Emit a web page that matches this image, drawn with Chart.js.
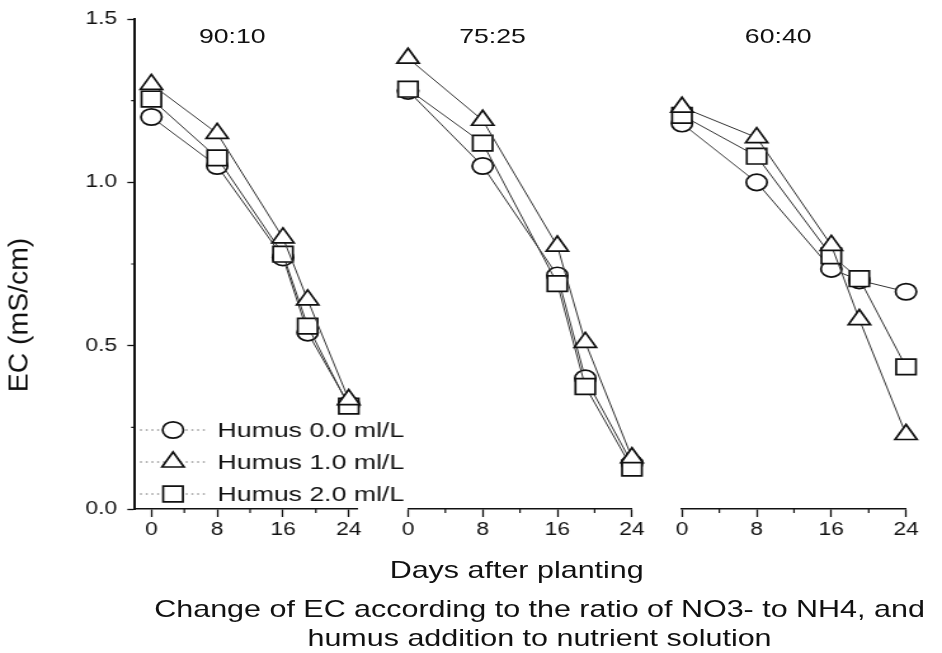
<!DOCTYPE html>
<html lang="en">
<head>
  <meta charset="UTF-8" />
  <title>Change of EC - NO3:NH4 ratio and humus</title>
  <script src="https://cdn.jsdelivr.net/npm/chart.js@4.4.0/dist/chart.umd.min.js"></script>
  <style>
    body {
      margin: 0;
      background: #fff;
      overflow: hidden;
    }
    /* the scanned figure uses a very wide sans face, so the figure is laid
       out 742px wide and stretched to fill the 942px window */
    .figure {
      position: relative;
      width: 742px;
      height: 653px;
      transform: scaleX(1.2695);
      transform-origin: 0 0;
      font-family: 'Liberation Sans', Arial, sans-serif;
      color: #111;
    }
    .panel {
      position: absolute;
      top: 0;
      height: 560px;
    }
    .txt {
      position: absolute;
      white-space: nowrap;
      text-align: center;
    }
    .panel-title { font-size: 21px; line-height: 21px; width: 100px; top: 25px; }
    .caption { font-size: 24px; line-height: 24px; width: 800px; left: 25px; }
    .ytitle {
      font-size: 22px; line-height: 26px; width: 200px; height: 26px;
      left: -85px; top: 302px;
      transform: rotate(-90deg) scaleX(1.29);
    }
  </style>
</head>
<body>
  <div class="figure">
    <!-- panel 1 is wider than its plot so the legend text is not cut off -->
    <div class="panel" style="left:0; width:330px;"><canvas id="p1"></canvas></div>
    <div class="panel" style="left:300px; width:220px;"><canvas id="p2"></canvas></div>
    <div class="panel" style="left:520px; width:222px;"><canvas id="p3"></canvas></div>

    <div class="txt panel-title" style="left:133px;">90:10</div>
    <div class="txt panel-title" style="left:338px;">75:25</div>
    <div class="txt panel-title" style="left:563px;">60:40</div>

    <div class="txt ytitle">EC (mS/cm)</div>
    <div class="txt caption" style="left:7px; top:558px;">Days after planting</div>
    <div class="txt caption" style="top:597px;">Change of EC according to the ratio of NO3- to NH4, and</div>
    <div class="txt caption" style="top:626px;">humus addition to nutrient solution</div>
  </div>

  <script>
    const days = [0, 8, 16, 19, 24];
    const dayTicks = [0, 8, 16, 24];
    const dayMinor = [4, 12, 20];
    const ecTicks = [0, 0.5, 1.0, 1.5];
    const ecMinor = [0.25, 0.75, 1.25];
    const seriesNames = ['Humus 0.0 ml/L', 'Humus 1.0 ml/L', 'Humus 2.0 ml/L'];

    // EC (mS/cm), one array per humus level, for each NO3:NH4 ratio
    const ec9010_h0 = [1.20, 1.05, 0.77, 0.54, 0.32];
    const ec9010_h1 = [1.30, 1.15, 0.83, 0.64, 0.335];
    const ec9010_h2 = [1.255, 1.075, 0.78, 0.56, 0.315];

    const ec7525_h0 = [1.28, 1.05, 0.715, 0.40, 0.14];
    const ec7525_h1 = [1.38, 1.19, 0.805, 0.51, 0.157];
    const ec7525_h2 = [1.285, 1.12, 0.69, 0.375, 0.125];

    const ec6040_h0 = [1.18, 1.00, 0.735, 0.70, 0.665];
    const ec6040_h1 = [1.23, 1.137, 0.807, 0.58, 0.228];
    const ec6040_h2 = [1.205, 1.08, 0.775, 0.705, 0.435];

    const FONT = "'Liberation Sans', Arial, sans-serif";
    const INK = '#111';
    const markers = ['circle', 'triangle', 'rect'];
    const markerSize = [8.2, 10, 11];
    const stacking = [2, 0, 1];   // triangles on top, circles below

    // short unlabelled ticks between the labelled ones
    const minorTicks = {
      id: 'minorTicks',
      afterDraw(chart) {
        const { ctx, chartArea } = chart;
        const xs = chart.scales.x, ys = chart.scales.y;
        ctx.save();
        ctx.strokeStyle = INK;
        ctx.lineWidth = 1.2;
        ctx.beginPath();
        dayMinor.forEach(v => {
          const px = xs.getPixelForValue(v);
          ctx.moveTo(px, chartArea.bottom);
          ctx.lineTo(px, chartArea.bottom + 4);
        });
        if (ys.options.display) {
          ecMinor.forEach(v => {
            const py = ys.getPixelForValue(v);
            ctx.moveTo(chartArea.left, py);
            ctx.lineTo(chartArea.left - 3, py);
          });
        }
        ctx.stroke();
        ctx.restore();
      }
    };

    // legend sits inside the first panel, bottom left
    const insideLegend = {
      id: 'insideLegend',
      afterDatasetsDraw(chart) {
        const { ctx, chartArea } = chart;
        ctx.save();
        ctx.font = '21px ' + FONT;
        ctx.textBaseline = 'middle';
        chart.data.datasets.forEach((ds, i) => {
          const cy = chartArea.bottom - 79 + i * 32;
          const cx = chartArea.left + 30;
          ctx.strokeStyle = '#666';
          ctx.lineWidth = 1;
          ctx.setLineDash([1.5, 3]);
          ctx.beginPath();
          ctx.moveTo(chartArea.left + 4, cy);
          ctx.lineTo(chartArea.left + 57, cy);
          ctx.stroke();
          ctx.setLineDash([]);
          ctx.fillStyle = '#fff';
          ctx.strokeStyle = INK;
          ctx.lineWidth = 1.7;
          Chart.helpers.drawPoint(ctx, { pointStyle: ds.pointStyle, radius: ds.pointRadius, rotation: 0, borderWidth: 1.7 }, cx, cy);
          ctx.fillStyle = INK;
          ctx.fillText(ds.label, chartArea.left + 65, cy + 1);
        });
        ctx.restore();
      }
    };

    function makePanel(id, series, xMin, xMax, showY, padLeft, padRight, extraPlugins) {
      return new Chart(document.getElementById(id), {
        type: 'line',
        data: {
          datasets: series.map((vals, i) => ({
            label: seriesNames[i],
            data: days.map((d, j) => ({ x: d, y: vals[j] })),
            borderColor: '#333',
            borderWidth: 1,
            pointStyle: markers[i],
            pointRadius: markerSize[i],
            pointBackgroundColor: '#fff',
            pointBorderColor: INK,
            pointBorderWidth: 1.7,
            order: stacking[i],
            clip: false,
            fill: false,
            tension: 0
          }))
        },
        options: {
          responsive: true,
          maintainAspectRatio: false,
          animation: false,
          events: [],
          layout: { padding: { left: padLeft, right: padRight, top: 19, bottom: 0 } },
          plugins: { legend: { display: false }, tooltip: { enabled: false } },
          scales: {
            x: {
              type: 'linear',
              min: xMin,
              max: xMax,
              afterBuildTicks: s => { s.ticks = dayTicks.map(v => ({ value: v })); },
              afterFit: s => { s.height = 51; },
              border: { display: true, color: INK, width: 1.5 },
              grid: { drawOnChartArea: false, drawTicks: true, tickLength: 8, color: INK, tickColor: INK, tickWidth: 1.3 },
              ticks: { color: INK, padding: 2, maxRotation: 0, autoSkip: false, font: { family: FONT, size: 18 } }
            },
            y: {
              display: showY,
              min: 0,
              max: 1.5,
              afterBuildTicks: s => { s.ticks = ecTicks.map(v => ({ value: v })); },
              afterFit: s => { s.width = showY ? 106.3 : 0; },
              border: { display: true, color: INK, width: 2 },
              grid: { drawOnChartArea: false, drawTicks: true, tickLength: 6, color: INK, tickColor: INK, tickWidth: 1.3 },
              ticks: { color: INK, padding: 8, callback: v => v.toFixed(1), font: { family: FONT, size: 18 } }
            }
          }
        },
        plugins: [minorTicks].concat(extraPlugins)
      });
    }

    makePanel('p1', [ec9010_h0, ec9010_h1, ec9010_h2], -2, 25, true, 0, 48.8, [insideLegend]);
    makePanel('p2', [ec7525_h0, ec7525_h1, ec7525_h2], 0, 24, false, 21.4, 22.2, []);
    makePanel('p3', [ec6040_h0, ec6040_h1, ec6040_h2], 0, 24, false, 17.2, 28.3, []);
  </script>
</body>
</html>
